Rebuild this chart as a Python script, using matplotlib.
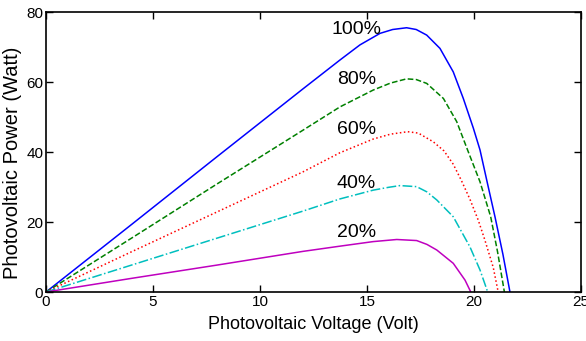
import matplotlib
matplotlib.use("Agg")
import matplotlib.pyplot as plt

v100 = [0, 4, 8, 12, 13.74, 14.67, 15.61, 16.2, 16.85, 17.3, 17.79, 18.41, 19.03, 19.5, 19.97, 20.28, 20.63, 20.98, 21.35, 21.68]
p100 = [0, 19.3, 38.7, 58.0, 66.3, 70.6, 73.9, 75.0, 75.5, 75.0, 73.4, 69.6, 62.9, 55.3, 46.8, 40.6, 31.0, 21.5, 10.8, 0]
v80 = [0, 4, 8, 12, 13.74, 15.29, 16.1, 16.85, 17.3, 17.79, 18.57, 19.19, 19.73, 20.28, 20.78, 21.1, 21.42]
p80 = [0, 15.4, 30.9, 46.2, 52.9, 57.7, 59.7, 60.9, 60.7, 59.6, 55.3, 48.7, 40.1, 31.5, 21.5, 11.5, 0]
v60 = [0, 4, 8, 12, 13.74, 15.29, 16.1, 16.9, 17.4, 18.1, 18.6, 19.03, 19.4, 19.81, 20.2, 20.5, 20.9, 21.13]
p60 = [0, 11.5, 22.9, 34.3, 39.8, 43.7, 45.1, 45.8, 45.4, 42.9, 40.3, 36.5, 32, 26.5, 20.5, 15, 7, 0]
v40 = [0, 4, 8, 12, 13.74, 15.29, 16.0, 16.54, 17.32, 17.8, 18.26, 19.03, 19.81, 20.28, 20.64]
p40 = [0, 7.7, 15.4, 23.1, 26.6, 29.1, 29.9, 30.4, 30.1, 28.6, 26.3, 21.5, 12.9, 6.3, 0]
v20 = [0, 4, 8, 12, 13.74, 15.29, 16.39, 17.32, 17.8, 18.26, 19.03, 19.58, 19.85]
p20 = [0, 3.9, 7.7, 11.6, 13.1, 14.4, 15.0, 14.7, 13.6, 12.0, 8.2, 3.4, 0]

labels = ["100%", "80%", "60%", "40%", "20%"]
label_y = [74.9, 60.6, 46.3, 31.1, 16.9]
label_x = 14.5

xticks = [0, 5, 10, 15, 20, 25]
yticks = [0, 20, 40, 60, 80]

fig = plt.figure(figsize=(5.86, 3.41), dpi=100)
ax = fig.add_axes([46/586, 1 - 292/341, (581-46)/586, (292-12)/341])

series = [(v100, p100, "#0000ff", "-"),
          (v80, p80, "#008000", "--"),
          (v60, p60, "#ff0000", ":"),
          (v40, p40, "#00bfbf", "-."),
          (v20, p20, "#bf00bf", "-")]
for v, p, c, ls in series:
    ax.plot(v, p, color=c, linestyle=ls, linewidth=1.1)

for t, y in zip(labels, label_y):
    ax.text(label_x, y, t, ha="center", va="center", fontsize=14, family="Liberation Sans")

ax.set_xlim(0, 25)
ax.set_ylim(0, 80)
ax.set_xticks(xticks)
ax.set_yticks(yticks)
ax.tick_params(direction="in", top=True, right=True, length=5, width=1, labelsize=11, pad=2)
for lab in ax.get_xticklabels() + ax.get_yticklabels():
    lab.set_family("Liberation Sans")
for s in ax.spines.values():
    s.set_linewidth(1.2)

ax.set_xlabel("Photovoltaic Voltage (Volt)", fontsize=13, family="Liberation Sans", labelpad=5)
ax.set_ylabel("Photovoltaic Power (Watt)", fontsize=14.5, family="Liberation Sans")
ax.yaxis.set_label_coords(-0.063, 0.4625)
ax.yaxis.label.set_va("center")

fig.savefig("out.png", dpi=100)
